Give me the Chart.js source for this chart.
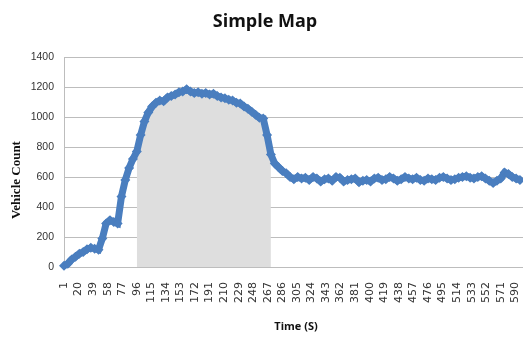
<!DOCTYPE html>
<html>
<head>
<meta charset="utf-8">
<title>Simple Map</title>
<script src="https://cdn.jsdelivr.net/npm/chart.js@4/dist/chart.umd.min.js"></script>
<style>
  html, body { margin: 0; padding: 0; background: #ffffff; }
  #wrap { width: 523px; height: 339px; position: relative; }
</style>
</head>
<body>
<div id="wrap"><canvas id="chart" width="523" height="339"></canvas></div>
<script>
// Simulation time (seconds) of each sample
const times = [
  1, 6, 11, 16, 21, 26, 31, 36, 41, 46, 51, 56, 61, 66, 71, 76, 81, 86, 91, 96,
  101, 106, 111, 116, 121, 126, 131, 136, 141, 146, 151, 156, 161, 166, 171, 176, 181, 186, 191, 196,
  201, 206, 211, 216, 221, 226, 231, 236, 241, 246, 251, 256, 261, 266, 271, 276, 281, 286, 291, 296,
  301, 306, 311, 316, 321, 326, 331, 336, 341, 346, 351, 356, 361, 366, 371, 376, 381, 386, 391, 396,
  401, 406, 411, 416, 421, 426, 431, 436, 441, 446, 451, 456, 461, 466, 471, 476, 481, 486, 491, 496,
  501, 506, 511, 516, 521, 526, 531, 536, 541, 546, 551, 556, 561, 566, 571, 576, 581, 586, 591, 596
];

// Vehicles on the map at each sample
const vehicleCount = [
  8, 22, 50, 68, 88, 100, 118, 128, 122, 115, 190, 290, 312, 300, 290, 470, 580, 660, 720, 770,
  880, 970, 1030, 1070, 1095, 1110, 1105, 1130, 1140, 1150, 1165, 1170, 1185, 1170, 1160, 1165, 1155, 1160, 1150, 1155,
  1140, 1130, 1125, 1115, 1110, 1095, 1090, 1070, 1055, 1035, 1015, 995, 990, 880, 750, 690, 665, 640, 625, 600,
  585, 600, 590, 595, 580, 600, 590, 570, 585, 590, 575, 600, 595, 570, 580, 585, 590, 565, 575, 580,
  570, 590, 595, 580, 585, 600, 590, 575, 585, 600, 590, 585, 595, 580, 575, 590, 585, 580, 595, 600,
  590, 580, 585, 595, 600, 605, 595, 590, 600, 605, 590, 575, 560, 575, 590, 630, 620, 600, 590, 580
];

// Labels shown along the time axis
const timeTicks = [1, 20, 39, 58, 77, 96, 115, 134, 153, 172, 191, 210, 229, 248, 267, 286,
  305, 324, 343, 362, 381, 400, 419, 438, 457, 476, 495, 514, 533, 552, 571, 590];

// Shaded interval (seconds)
const shadeStart = 96;
const shadeEnd = 271;

const BLUE = '#4a7ebf';
const GRID = '#bdbdbd';

const linePoints = times.map((t, i) => ({ x: t, y: vehicleCount[i] }));
const shadePoints = linePoints.filter(p => p.x >= shadeStart && p.x <= shadeEnd);

const textPlugin = {
  id: 'chartTexts',
  afterDraw(chart) {
    const ctx = chart.ctx;
    ctx.save();
    ctx.fillStyle = '#111111';
    ctx.textAlign = 'center';
    ctx.textBaseline = 'middle';
    ctx.font = 'bold 18px "Open Sans", "Liberation Sans", sans-serif';
    ctx.fillText('Simple Map', 265, 22);

    ctx.font = 'bold 11px "Open Sans", "Liberation Sans", sans-serif';
    ctx.fillText('Time (S)', 296, 327);

    ctx.translate(17, 180);
    ctx.rotate(-Math.PI / 2);
    ctx.font = 'bold 13px "Liberation Serif", "DejaVu Serif", serif';
    ctx.fillText('Vehicle Count', 0, 0);
    ctx.restore();
  }
};

new Chart(document.getElementById('chart'), {
  type: 'line',
  data: {
    datasets: [
      {
        label: 'Vehicle Count',
        data: linePoints,
        borderColor: BLUE,
        backgroundColor: BLUE,
        borderWidth: 7,
        pointStyle: 'rectRot',
        pointRadius: 5,
        pointBorderWidth: 0,
        pointBackgroundColor: BLUE,
        fill: false,
        tension: 0,
        clip: 8,
        order: 0
      },
      {
        label: 'Shaded',
        data: shadePoints,
        borderWidth: 0,
        borderColor: 'rgba(0,0,0,0)',
        backgroundColor: '#dedede',
        pointRadius: 0,
        fill: 'origin',
        tension: 0,
        order: 1
      }
    ]
  },
  options: {
    responsive: false,
    animation: false,
    events: [],
    layout: { autoPadding: false, padding: { top: 57, right: 0, left: 0, bottom: 0 } },
    plugins: {
      legend: { display: false },
      title: { display: false },
      tooltip: { enabled: false }
    },
    scales: {
      x: {
        type: 'linear',
        min: 1,
        max: 600,
        afterBuildTicks(scale) {
          scale.ticks = timeTicks.map(v => ({ value: v }));
        },
        afterFit(scale) {
          scale.height = 72;
          scale.paddingLeft = 0;
          scale.paddingRight = 0;
        },
        ticks: {
          autoSkip: false,
          minRotation: 90,
          maxRotation: 90,
          padding: 15,
          color: '#333333',
          font: { family: '"DejaVu Sans", sans-serif', size: 11 },
          callback: v => String(v)
        },
        grid: { display: false, drawTicks: false },
        border: { display: true, color: GRID, width: 1 }
      },
      y: {
        min: 0,
        max: 1400,
        afterFit(scale) {
          scale.width = 64;
          scale.paddingTop = 0;
          scale.paddingBottom = 0;
        },
        ticks: {
          stepSize: 200,
          padding: 10,
          color: '#333333',
          font: { family: '"Liberation Sans", sans-serif', size: 10.5 },
          callback: v => String(v)
        },
        grid: { color: GRID, drawTicks: false, lineWidth: 1 },
        border: { display: true, color: GRID, width: 1 }
      }
    }
  },
  plugins: [textPlugin]
});
</script>
</body>
</html>
